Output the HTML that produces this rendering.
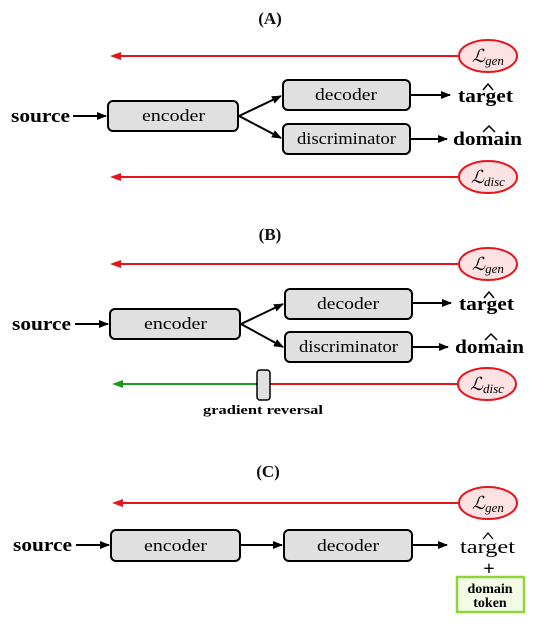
<!DOCTYPE html>
<html><head><meta charset="utf-8"><style>
html,body{margin:0;padding:0;background:#fff}
svg{display:block}
text{font-family:"Liberation Serif","DejaVu Serif",serif}
</style></head><body>
<svg width="546" height="630" viewBox="0 0 546 630" xmlns="http://www.w3.org/2000/svg">
<defs>
<marker id="ab" markerWidth="10" markerHeight="8" refX="9" refY="4" orient="auto" markerUnits="userSpaceOnUse"><path d="M0,0 L10,4 L0,8 z" fill="#000"/></marker>
</defs>
<g font-weight="bold" font-size="17" text-anchor="middle" fill="#111">
<text x="270" y="24">(A)</text>
<text x="270" y="240">(B)</text>
<text x="268" y="477">(C)</text>
</g>

<!-- Panel A -->
<line x1="460" y1="56" x2="118" y2="56" stroke="#e8141c" stroke-width="2"/>
<polygon points="110,56 121,52 121,60" fill="#e8141c"/>
<ellipse cx="488" cy="56" rx="29" ry="16" fill="#fde2e4" stroke="#e8141c" stroke-width="2"/>
<text x="488" y="62" text-anchor="middle" font-size="18" font-style="italic">ℒ<tspan font-size="13" dy="3">gen</tspan></text>
<text x="11" y="122" font-size="19" font-weight="bold" textLength="59" lengthAdjust="spacingAndGlyphs">source</text>
<line x1="73" y1="116" x2="106" y2="116" stroke="#000" stroke-width="2" marker-end="url(#ab)"/>
<rect x="108" y="101" width="130" height="30" rx="5" fill="#e1e0e1" stroke="#000" stroke-width="2"/>
<text x="142" y="121" font-size="17" textLength="63" lengthAdjust="spacingAndGlyphs">encoder</text>
<line x1="239" y1="116" x2="281" y2="96" stroke="#000" stroke-width="2" marker-end="url(#ab)"/>
<line x1="239" y1="116" x2="281" y2="138" stroke="#000" stroke-width="2" marker-end="url(#ab)"/>
<rect x="283" y="80" width="127" height="30" rx="5" fill="#e1e0e1" stroke="#000" stroke-width="2"/>
<text x="315" y="100" font-size="17" textLength="62" lengthAdjust="spacingAndGlyphs">decoder</text>
<rect x="283" y="124" width="127" height="30" rx="5" fill="#e1e0e1" stroke="#000" stroke-width="2"/>
<text x="297" y="144" font-size="17" textLength="99" lengthAdjust="spacingAndGlyphs">discriminator</text>
<line x1="411" y1="95" x2="450" y2="95" stroke="#000" stroke-width="2" marker-end="url(#ab)"/>
<line x1="411" y1="139" x2="447" y2="139" stroke="#000" stroke-width="2" marker-end="url(#ab)"/>
<text x="458" y="102" font-size="19" font-weight="bold" textLength="55" lengthAdjust="spacingAndGlyphs">target</text>
<path d="M483,90 L488,84 L493,90" fill="none" stroke="#000" stroke-width="1.5"/>
<text x="453" y="145" font-size="19" font-weight="bold" textLength="69" lengthAdjust="spacingAndGlyphs">domain</text>
<path d="M483,132 L489,126 L495,132" fill="none" stroke="#000" stroke-width="1.5"/>
<line x1="460" y1="177" x2="118" y2="177" stroke="#e8141c" stroke-width="2"/>
<polygon points="110,177 121,173 121,181" fill="#e8141c"/>
<ellipse cx="488" cy="177" rx="29" ry="16" fill="#fde2e4" stroke="#e8141c" stroke-width="2"/>
<text x="488" y="183" text-anchor="middle" font-size="18" font-style="italic">ℒ<tspan font-size="13" dy="3">disc</tspan></text>

<!-- Panel B -->
<line x1="460" y1="264" x2="118" y2="264" stroke="#e8141c" stroke-width="2"/>
<polygon points="110,264 121,260 121,268" fill="#e8141c"/>
<ellipse cx="488" cy="264" rx="29" ry="16" fill="#fde2e4" stroke="#e8141c" stroke-width="2"/>
<text x="488" y="270" text-anchor="middle" font-size="18" font-style="italic">ℒ<tspan font-size="13" dy="3">gen</tspan></text>
<text x="12" y="330" font-size="19" font-weight="bold" textLength="59" lengthAdjust="spacingAndGlyphs">source</text>
<line x1="75" y1="324" x2="108" y2="324" stroke="#000" stroke-width="2" marker-end="url(#ab)"/>
<rect x="110" y="309" width="130" height="30" rx="5" fill="#e1e0e1" stroke="#000" stroke-width="2"/>
<text x="144" y="329" font-size="17" textLength="63" lengthAdjust="spacingAndGlyphs">encoder</text>
<line x1="241" y1="324" x2="283" y2="304" stroke="#000" stroke-width="2" marker-end="url(#ab)"/>
<line x1="241" y1="324" x2="283" y2="347" stroke="#000" stroke-width="2" marker-end="url(#ab)"/>
<rect x="285" y="289" width="127" height="30" rx="5" fill="#e1e0e1" stroke="#000" stroke-width="2"/>
<text x="317" y="309" font-size="17" textLength="62" lengthAdjust="spacingAndGlyphs">decoder</text>
<rect x="285" y="332" width="127" height="30" rx="5" fill="#e1e0e1" stroke="#000" stroke-width="2"/>
<text x="299" y="352" font-size="17" textLength="99" lengthAdjust="spacingAndGlyphs">discriminator</text>
<line x1="413" y1="303" x2="451" y2="303" stroke="#000" stroke-width="2" marker-end="url(#ab)"/>
<line x1="413" y1="347" x2="448" y2="347" stroke="#000" stroke-width="2" marker-end="url(#ab)"/>
<text x="459" y="310" font-size="19" font-weight="bold" textLength="55" lengthAdjust="spacingAndGlyphs">target</text>
<path d="M484,298 L489,292 L494,298" fill="none" stroke="#000" stroke-width="1.5"/>
<text x="455" y="353" font-size="19" font-weight="bold" textLength="69" lengthAdjust="spacingAndGlyphs">domain</text>
<path d="M485,340 L491,334 L497,340" fill="none" stroke="#000" stroke-width="1.5"/>
<line x1="459" y1="384" x2="270" y2="384" stroke="#e8141c" stroke-width="2"/>
<line x1="257" y1="384" x2="120" y2="384" stroke="#1e9a1e" stroke-width="2"/>
<polygon points="112,384 123,380 123,388" fill="#1e9a1e"/>
<rect x="257" y="370" width="13" height="30" rx="3" fill="#e1e0e1" stroke="#000" stroke-width="1.5"/>
<ellipse cx="487" cy="384" rx="29" ry="16" fill="#fde2e4" stroke="#e8141c" stroke-width="2"/>
<text x="487" y="390" text-anchor="middle" font-size="18" font-style="italic">ℒ<tspan font-size="13" dy="3">disc</tspan></text>
<text x="203" y="414" font-size="13" font-weight="bold" textLength="120" lengthAdjust="spacingAndGlyphs">gradient reversal</text>

<!-- Panel C -->
<line x1="460" y1="503" x2="120" y2="503" stroke="#e8141c" stroke-width="2"/>
<polygon points="112,503 123,499 123,507" fill="#e8141c"/>
<ellipse cx="488" cy="503" rx="29" ry="16" fill="#fde2e4" stroke="#e8141c" stroke-width="2"/>
<text x="488" y="509" text-anchor="middle" font-size="18" font-style="italic">ℒ<tspan font-size="13" dy="3">gen</tspan></text>
<text x="13" y="551" font-size="19" font-weight="bold" textLength="59" lengthAdjust="spacingAndGlyphs">source</text>
<line x1="76" y1="545" x2="109" y2="545" stroke="#000" stroke-width="2" marker-end="url(#ab)"/>
<rect x="111" y="530" width="129" height="31" rx="5" fill="#e1e0e1" stroke="#000" stroke-width="2"/>
<text x="144" y="551" font-size="17" textLength="63" lengthAdjust="spacingAndGlyphs">encoder</text>
<line x1="241" y1="545" x2="282" y2="545" stroke="#000" stroke-width="2" marker-end="url(#ab)"/>
<rect x="284" y="530" width="128" height="31" rx="5" fill="#e1e0e1" stroke="#000" stroke-width="2"/>
<text x="317" y="551" font-size="17" textLength="62" lengthAdjust="spacingAndGlyphs">decoder</text>
<line x1="413" y1="545" x2="447" y2="545" stroke="#000" stroke-width="2" marker-end="url(#ab)"/>
<text x="460" y="553" font-size="19" textLength="55" lengthAdjust="spacingAndGlyphs">target</text>
<path d="M483,539 L488,533 L493,539" fill="none" stroke="#000" stroke-width="1.3"/>
<text x="489" y="575" text-anchor="middle" font-size="20" font-weight="bold">+</text>
<rect x="457" y="577" width="67" height="35" fill="#f3fbe6" stroke="#8fd43a" stroke-width="2.5"/>
<text x="490" y="593" text-anchor="middle" font-size="14" font-weight="bold">domain</text>
<text x="490" y="607" text-anchor="middle" font-size="14" font-weight="bold">token</text>
</svg>
</body></html>
